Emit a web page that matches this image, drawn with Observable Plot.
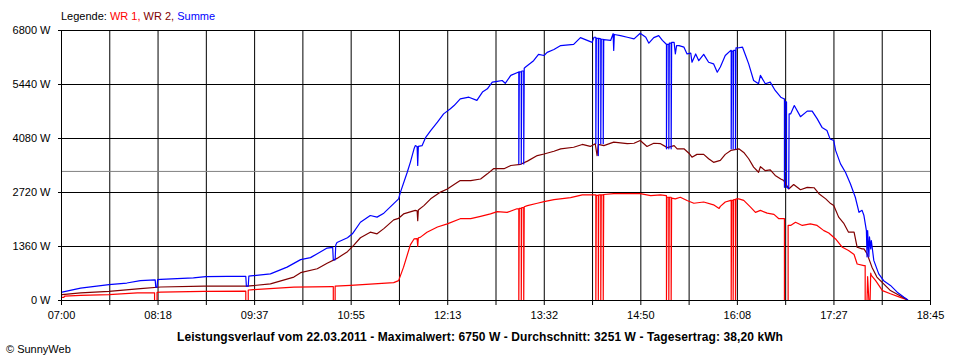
<!DOCTYPE html>
<html>
<head>
<meta charset="utf-8">
<script src="https://cdn.jsdelivr.net/npm/d3@7"></script>
<script src="https://cdn.jsdelivr.net/npm/@observablehq/plot@0.6"></script>
<style>
  html, body { margin: 0; padding: 0; background: #fff; }
  #wrap { position: relative; width: 960px; height: 360px; font-family: "Liberation Sans", Arial, sans-serif; }
  #wrap svg { position: absolute; left: 0; top: 0; }
  .txt { position: absolute; line-height: 1; white-space: nowrap; }
  #legend { left: 61px; top: 11px; font-size: 11px; color: #000; }
  #caption { left: 0; width: 960px; text-align: center; top: 331px; font-size: 12px; font-weight: bold; color: #000; letter-spacing: 0.1px; }
  #copy { left: 6px; top: 344px; font-size: 11px; color: #000; }
</style>
</head>
<body>
<div id="wrap">
  <div id="legend" class="txt">Legende: <span style="color:#ff0000">WR 1,</span> <span style="color:#800000">WR 2,</span> <span style="color:#0000ff">Summe</span></div>
  <div id="caption" class="txt">Leistungsverlauf vom 22.03.2011 - Maximalwert: 6750 W - Durchschnitt: 3251 W - Tagesertrag: 38,20 kWh</div>
  <div id="copy" class="txt">© SunnyWeb</div>
</div>
<script>
// time in minutes since midnight, power in W
const xLabels = ["07:00","","08:18","","09:37","","10:55","","12:13","","13:32","","14:50","","16:08","","17:27","","18:45"];
const yTicks = [0, 1360, 2720, 4080, 5440, 6800];
const average = 3251;

const wr1 = [[420,80],[422,80],[422.5,110],[435.5,130],[458.5,150],[481.5,190],[495.5,195],[495.5,0],[497.5,0],[497.5,205],[500.5,210],[535.5,230],[569.5,235],[569.5,0],[571.5,0],[571.5,265],[573.5,270],[608.5,335],[639.5,350],[640.5,350],[640.5,0],[642,0],[642,360],[654.5,380],[689.5,450],[693.5,500],[697.5,840],[703,1400],[706,1550],[708.5,1560],[709,1360],[709.5,1580],[711,1590],[716.5,1720],[725,1850],[733,1930],[743.5,2060],[752,2060],[760,2120],[768,2180],[773.5,2240],[781.5,2220],[789.5,2310],
[791,2310],[791,0],[791.4,2320],[793,2320],[793,0],[793.4,2340],[795,2340],[795,0],[795.4,2360],
[798,2390],[806,2450],[811.5,2490],[819.5,2540],[833,2590],[842.5,2660],[852,2660],
[853.5,2660],[853.5,0],[853.9,2650],[855.5,2650],[855.5,0],[855.9,2660],[857.5,2660],[857.5,0],[857.9,2660],[859.5,2660],[859.5,0],[859.9,2670],
[868,2690],[889.5,2690],[898,2640],[906,2660],[910.5,2640],
[910.8,2640],[910.8,0],[911.2,2600],[912.7,2600],[912.7,0],[913.1,2600],[914.6,2600],[914.6,0],[915,2580],
[918,2560],[922,2600],[927.5,2520],[933,2450],[941,2480],[949,2410],[953.5,2320],[954.5,2370],[958.5,2480],[963,2520],
[963.3,2520],[963.3,0],[963.7,2520],[964.9,2520],[964.9,0],[965.3,2540],[966.8,2540],[966.8,0],[967.2,2560],
[969.5,2560],[973.5,2520],[979,2350],[983,2220],[987,2270],[992.5,2200],[998,2170],[1002,2060],[1006,2060],[1006.5,2060],[1006.5,0],[1009.5,0],[1009.5,1890],[1011.5,1890],[1015.5,1970],[1021,1890],[1027.5,1930],[1033,1890],[1038.5,1760],[1042.5,1700],[1048,1550],[1053.5,1340],[1058.5,1260],[1063,1160],[1065.5,920],[1071,880],[1072,880],[1072,0],[1073.5,0],[1074,600],[1075,0],[1076,0],[1076.5,690],[1077,630],[1080.5,500],[1086,250],[1092.5,170],[1100.5,80],[1106,20]];

const wr2 = [[420.5,150],[435.5,190],[458.5,230],[484,300],[500.5,340],[535.5,360],[570.5,360],[589.5,420],[608.5,590],[614,700],[627.5,800],[635.5,940],[643.5,1060],[652,1230],[657,1390],[662.5,1580],[670.5,1720],[676,1680],[681.5,1810],[689.5,2030],[693.5,2070],[697.5,2180],[707,2270],[708.5,2260],[709,2010],[709.5,2280],[714,2390],[719.5,2560],[727.5,2730],[733,2810],[738.5,2920],[743.5,3020],[752,3020],[760,3060],[765.5,3190],[770.5,3320],[779,3320],[784.5,3400],[792.5,3430],[798,3510],[806,3650],[811.5,3690],[819.5,3760],[825,3820],[835.5,3860],[842.5,3930],[849,3880],[853,3950],[854.5,3650],[855.5,3930],[860,3900],[868,3990],[879,3950],[884.5,3960],[889.5,4030],[895,3880],[900.5,3960],[906,3950],[911.5,3850],[917,3900],[919.5,3820],[925,3820],[929,3710],[931.5,3610],[935.5,3680],[941,3680],[945,3570],[949,3480],[954.5,3530],[958.5,3680],[963,3780],[969.5,3820],[973.5,3730],[977.5,3570],[981.5,3360],[985.5,3230],[987,3370],[991,3270],[995,3290],[999,3150],[1003.5,3060],[1006,3020],[1010,2810],[1014,2920],[1019.5,2790],[1025,2850],[1030.5,2840],[1034.5,2690],[1040,2560],[1044,2440],[1046.5,2390],[1050.5,2100],[1054.5,1950],[1058.5,1720],[1063,1720],[1065.5,1340],[1069.5,1300],[1071,1300],[1073.5,1180],[1077.5,840],[1081.5,590],[1087,420],[1092.5,250],[1099.5,130],[1106,20]];

const summe = [[420.5,210],[435.5,310],[458.5,400],[473,440],[484,500],[496,520],[496.5,335],[497.5,335],[498,525],[500.5,530],[527,570],[537,600],[554.5,610],[569.5,610],[570,360],[571.5,360],[572,615],[573.5,620],[589.5,670],[603,840],[614,1030],[622,1080],[627.5,1180],[635.5,1320],[640,1340],[640.5,1025],[642,1025],[642.5,1400],[643.5,1460],[652,1580],[656,1680],[662.5,1970],[670.5,2140],[676,2100],[681.5,2200],[689.5,2440],[693.5,2560],[695,2730],[700.5,3230],[703,3480],[706,3820],[707,3900],[708.5,3880],[709,3400],[709.5,3880],[712.5,3900],[715.5,4110],[719.5,4280],[725,4490],[730,4700],[735.5,4830],[738.5,4910],[743.5,5080],[750.5,5120],[757,5040],[761.5,5250],[765.5,5330],[769.5,5500],[773.5,5520],[777.5,5540],[780,5470],[784.5,5670],[790.5,5750],
[791,5750],[791,3440],[791.4,5760],[793,5760],[793,3440],[793.4,5780],[795,5780],[795,3440],[795.4,5850],
[796.5,5880],[803,6040],[807,6200],[811.5,6170],[814,6250],[819.5,6320],[825,6420],[835.5,6450],[841,6620],[846.5,6550],[850.5,6500],[852,6630],
[853.5,6630],[853.5,3950],[853.9,6600],[855.5,6600],[855.5,3650],[855.9,6600],[857.5,6590],[857.5,3950],[857.9,6580],[859.5,6580],[859.5,3950],[859.9,6560],
[860,6570],[865.5,6550],[867.5,6720],[868,6300],[868.5,6700],[873.5,6670],[879,6630],[884.5,6590],[889.5,6730],[894,6630],[896.5,6480],[900.5,6620],[904.5,6670],[907.5,6550],[910.5,6460],
[910.8,6460],[910.8,3820],[911.2,6450],[912.7,6450],[912.7,3820],[913.1,6480],[914.6,6480],[914.6,3820],[915,6500],
[917,6500],[918,6210],[919,6420],[921,6420],[925,6380],[927.5,6210],[930.5,6230],[931.5,6000],[934.5,6210],[937,6040],[941,6200],[945,6000],[949,5960],[952,5750],[954.5,5880],[958.5,6170],[963,6300],
[963.3,6300],[963.3,3820],[963.7,6280],[964.9,6280],[964.9,3820],[965.3,6300],[966.8,6300],[966.8,3820],[967.2,6360],
[968.5,6360],[972.5,6380],[975,6170],[977.5,5960],[981.5,5540],[985.5,5460],[987,5670],[991,5460],[995,5500],[999,5290],[1003.5,5120],[1006,5080],
[1006.5,5080],[1006.5,2850],[1006.9,5000],[1008.2,5000],[1008.2,2850],[1010,2820],[1010.3,4700],
[1011.5,4700],[1014.5,4910],[1019.5,4630],[1025,4770],[1029,4770],[1033,4580],[1037,4360],[1041,4280],[1043.5,4070],[1046.5,4030],[1048,3780],[1052,3440],[1056,3230],[1060,2940],[1064,2600],[1067,2220],[1069.5,2270],[1071,2140],[1073,1760],[1073.5,1100],[1074,1760],[1075,1100],[1075.5,1600],[1076.5,1300],[1077,1510],[1079,1010],[1083,670],[1087,500],[1092.5,380],[1098,210],[1103.5,80],[1106.5,20]];

const xStart = 420, xEnd = 1125;
const xStep = (xEnd - xStart) / (xLabels.length - 1);
const xTicks = xLabels.map((_, i) => xStart + i * xStep);

const chart = Plot.plot({
  width: 960,
  height: 360,
  marginLeft: 61,
  marginRight: 30,
  marginTop: 30,
  marginBottom: 60,
  x: { domain: [xStart, xEnd] },
  y: { domain: [0, 6800] },
  style: { fontFamily: "'Liberation Sans', Arial, sans-serif", fontSize: "11px", background: "transparent", color: "#000" },
  marks: [
    Plot.ruleX(xTicks, { stroke: "#000", strokeWidth: 1 }),
    Plot.ruleY(yTicks, { stroke: "#000", strokeWidth: 1 }),
    Plot.ruleY([average], { stroke: "#808080", strokeWidth: 1 }),
    Plot.line(wr1, { x: d => d[0], y: d => d[1], stroke: "#ff0000", strokeWidth: 1.2 }),
    Plot.line(wr2, { x: d => d[0], y: d => d[1], stroke: "#800000", strokeWidth: 1.2 }),
    Plot.line(summe, { x: d => d[0], y: d => d[1], stroke: "#0000ff", strokeWidth: 1.2 }),
    Plot.frame({ stroke: "#000" }),
    Plot.axisX({ ticks: xTicks, tickFormat: d => xLabels[Math.round((d - xStart) / xStep)], tickSize: 5, tickPadding: 6, fill: "#000" }),
    Plot.axisY({ ticks: yTicks, tickFormat: d => d + " W", tickSize: 3, tickPadding: 8, fill: "#000" })
  ]
});
document.getElementById("wrap").prepend(chart);
</script>
</body>
</html>
